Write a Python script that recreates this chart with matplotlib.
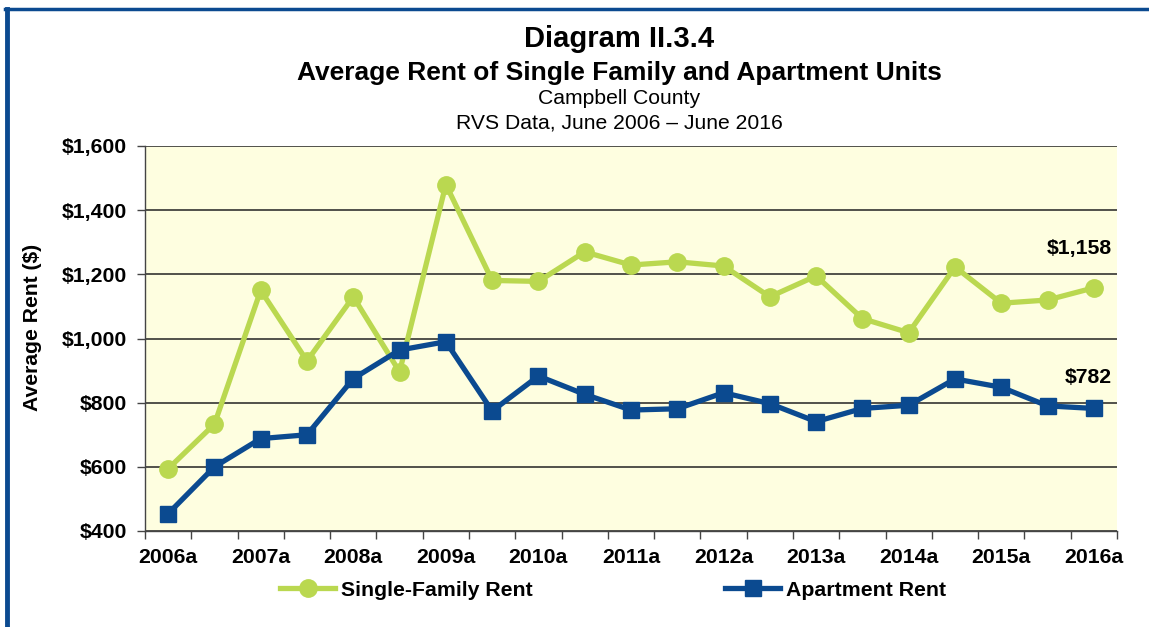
import matplotlib.pyplot as plt
import numpy as np
from matplotlib.lines import Line2D
from matplotlib.ticker import FuncFormatter

plt.rcParams['font.family'] = ['Liberation Sans', 'DejaVu Sans']

periods = ['2006a', '2006b', '2007a', '2007b', '2008a', '2008b', '2009a', '2009b',
           '2010a', '2010b', '2011a', '2011b', '2012a', '2012b', '2013a', '2013b',
           '2014a', '2014b', '2015a', '2015b', '2016a']
single_family = [594, 733, 1150, 930, 1130, 896, 1480, 1181, 1178, 1270, 1229,
                 1239, 1226, 1130, 1195, 1062, 1018, 1223, 1110, 1120, 1158]
apartment = [454, 600, 688, 700, 875, 964, 990, 774, 883, 826, 777,
             781, 831, 797, 741, 782, 792, 874, 848, 790, 782]

green = '#BAD850'
blue = '#0B4A90'

fig = plt.figure(figsize=(11.49, 6.27), dpi=100)
ax = fig.add_axes([145 / 1149, 1 - 531 / 627, 972 / 1149, 385 / 627])
ax.set_facecolor('#FEFEE0')

x = np.arange(len(periods))
ax.plot(x, single_family, color=green, lw=3.8, marker='o', ms=12.5,
        label='Single-Family Rent', zorder=3)
ax.plot(x, apartment, color=blue, lw=3.8, marker='s', ms=12,
        label='Apartment Rent', zorder=4)

ax.set_xlim(-0.5, len(periods) - 0.5)
ax.set_ylim(400, 1600)
ax.set_yticks(np.arange(400, 1601, 200))
ax.yaxis.set_major_formatter(FuncFormatter(lambda v, p: '${:,.0f}'.format(v)))
ax.grid(axis='y', color='#222222', lw=1.1)
ax.set_axisbelow(True)

# tick marks on category boundaries, labels on every other category
ax.set_xticks(np.arange(-0.5, len(periods), 1))
ax.set_xticklabels([])
ax.set_xticks(x[::2], minor=True)
ax.set_xticklabels(periods[::2], minor=True)
ax.tick_params(axis='x', which='major', length=6, width=1, color='#444444')
ax.tick_params(axis='x', which='minor', length=0, pad=12)
ax.tick_params(axis='y', length=6, width=1, color='#444444', pad=7)
for lab in ax.get_xticklabels(minor=True) + ax.get_yticklabels():
    lab.set_fontsize(15.3)
    lab.set_fontweight('bold')

for s in ['top', 'right']:
    ax.spines[s].set_visible(False)
for s in ['left', 'bottom']:
    ax.spines[s].set_color('#444444')
    ax.spines[s].set_linewidth(1)

ax.annotate('${:,}'.format(single_family[-1]), xy=(x[-1], single_family[-1]),
            xytext=(13, 28), textcoords='offset points', ha='right', va='center',
            fontsize=15.3, fontweight='bold')
ax.annotate('${:,}'.format(apartment[-1]), xy=(x[-1], apartment[-1]),
            xytext=(13, 22), textcoords='offset points', ha='right', va='center',
            fontsize=15.3, fontweight='bold')

fig.text(619 / 1149, 1 - 39 / 627, 'Diagram II.3.4', ha='center', va='center',
         fontsize=21, fontweight='bold')
fig.text(619 / 1149, 1 - 73 / 627, 'Average Rent of Single Family and Apartment Units',
         ha='center', va='center', fontsize=19, fontweight='bold')
fig.text(619 / 1149, 1 - 99 / 627, 'Campbell County', ha='center', va='center',
         fontsize=15.2)
fig.text(619 / 1149, 1 - 123 / 627, 'RVS Data, June 2006 \u2013 June 2016',
         ha='center', va='center', fontsize=15.2)
fig.text(33 / 1149, 1 - 327 / 627, 'Average Rent ($)', rotation=90, ha='center',
         va='center', fontsize=15.2, fontweight='bold')

h, l = ax.get_legend_handles_labels()
for i, xpos in enumerate([280, 725]):
    fig.legend([h[i]], [l[i]], loc='center left',
               bbox_to_anchor=(xpos / 1149, 1 - 590 / 627), frameon=False,
               borderpad=0, borderaxespad=0, handlelength=2.6, handletextpad=0.25,
               prop={'size': 15.3, 'weight': 'bold'})

# blue frame on the left and top
fig.add_artist(Line2D([6.5 / 1149, 6.5 / 1149], [0, 1 - 8.5 / 627], color=blue,
                      lw=3.5, transform=fig.transFigure))
fig.add_artist(Line2D([5 / 1149, 1], [1 - 8.5 / 627, 1 - 8.5 / 627], color=blue,
                      lw=2.5, transform=fig.transFigure))

fig.savefig('out.png', dpi=100)
